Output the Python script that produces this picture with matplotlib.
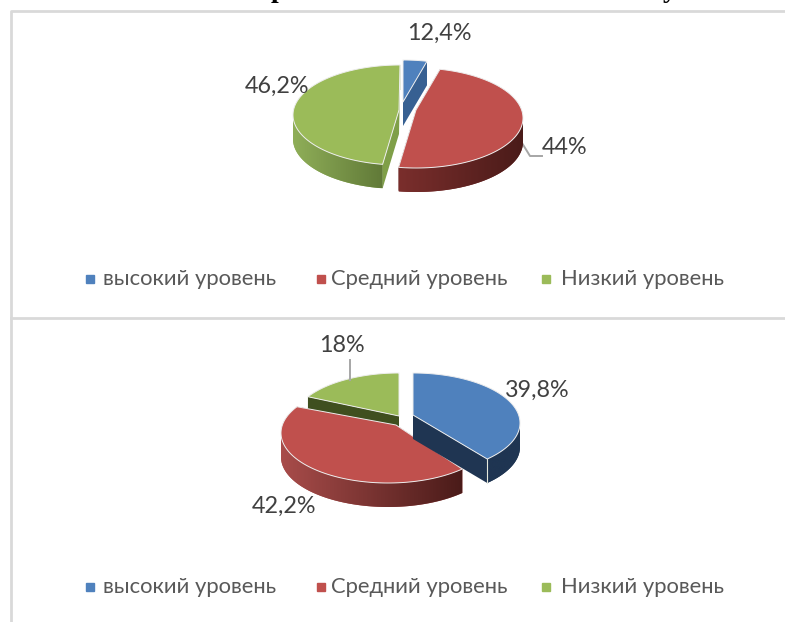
import numpy as np
import matplotlib
matplotlib.use("Agg")
import matplotlib.pyplot as plt
from matplotlib.colors import to_rgb, LinearSegmentedColormap

plt.rcParams['font.family'] = ['Lato', 'Roboto', 'DejaVu Sans']

levels = ["высокий уровень", "Средний уровень", "Низкий уровень"]
level_colors = ["#4F81BD", "#C0504D", "#9BBB59"]

# labels as printed, shares as drawn (they do not agree in the source picture)
top_labels = ["12,4%", "44%", "46,2%"]
top_shares = [3.6, 49.0, 47.4]
bottom_labels = ["39,8%", "42,2%", "18%"]
bottom_shares = [37.8, 46.0, 16.2]

W, H = 785, 622
RX, RY, DEPTH = 107, 50, 24


def draw_slice(ax, z, center, apex, t0, t1, color, cut_color, side, seam):
    t = np.radians(np.linspace(t0, t1, 240))
    xs = center[0] + RX * np.cos(t)
    ys = center[1] - RY * np.sin(t)

    # cut faces between the rim and the apex
    for x, y in [(xs[0], ys[0]), (xs[-1], ys[-1])]:
        ax.fill([x, apex[0], apex[0], x], [y, apex[1], apex[1] + DEPTH, y + DEPTH],
                color=cut_color, lw=0, zorder=z)

    # outer wall, front half only, gradient image clipped to the wall shape
    front = np.sin(t) < 0
    if front.sum() > 1:
        fx, fy = xs[front], ys[front]
        wall = ax.fill(np.r_[fx, fx[::-1]], np.r_[fy, fy[::-1] + DEPTH], color=side[0], lw=0, zorder=z)[0]
        cmap = LinearSegmentedColormap.from_list("wall", [to_rgb(side[0]), to_rgb(side[1])])
        im = ax.imshow(np.linspace(0, 1, 128).reshape(1, -1), cmap=cmap, aspect="auto", zorder=z,
                       extent=(fx.min(), fx.max(), fy.max() + DEPTH, fy.min()), interpolation="bilinear")
        im.set_clip_path(wall)
        if seam:
            ax.plot([xs[-1], xs[-1]], [ys[-1], ys[-1] + DEPTH], color="#E4E8DC", lw=0.8, zorder=z)

    ax.fill(np.r_[apex[0], xs], np.r_[apex[1], ys], facecolor=color,
            edgecolor="#EDEDED", lw=0.7, joinstyle="round", zorder=z)


def draw_pie(ax, shares, centers, apexes, order, cuts, sides, seams):
    ends = 90 - np.cumsum(shares) * 3.6
    starts = np.r_[90, ends[:-1]]
    for z, i in enumerate(order):
        draw_slice(ax, 2 + z, centers[i], apexes[i], starts[i], ends[i],
                   level_colors[i], cuts[i], sides[i], i in seams)


def draw_legend(ax, y):
    for name, color, mx, tx in zip(levels, level_colors, [90, 321, 546], [103, 331, 561]):
        ax.plot([mx], [y], marker="s", ms=5.6, color=color, ls="none")
        ax.text(tx, y, name, fontsize=15.8, color="#595959", va="center", ha="left")


fig = plt.figure(figsize=(W / 100, H / 100), dpi=100)
ax = fig.add_axes([0, 0, 1, 1])
ax.axis("off")

# frames of the two pasted charts
ax.plot([11, 11, W], [H, 11, 11], color="#D9D9D9", lw=2)
ax.plot([11, W], [318, 318], color="#D9D9D9", lw=2)

# bottom of the cut-off heading line
ax.text(278, -3, "р", family="Liberation Serif", weight="bold", fontsize=20, color="black", ha="center", va="baseline", clip_on=False)
ax.text(670, -3, "у", family="Liberation Serif", weight="bold", fontsize=20, color="black", ha="center", va="baseline", clip_on=False)

draw_pie(ax, top_shares,
         centers=[(403, 110), (416, 118), (400, 115)],
         apexes=[(403, 102), (416, 110), (399, 110)],
         order=[0, 2, 1],
         cuts=["#376092", "#632523", "#7F9F48"],
         sides=[("#376092", "#376092"), ("#7A2E2C", "#4A1B19"), ("#8FAE58", "#617A38")],
         seams=[2])

draw_pie(ax, bottom_shares,
         centers=[(413, 423), (388, 433), (399, 423)],
         apexes=[(413, 415), (396, 425), (399, 416)],
         order=[2, 1, 0],
         cuts=["#1F3552", "#632523", "#3F4F1F"],
         sides=[("#1F3552", "#1F3552"), ("#A84C4A", "#4A1B19"), ("#3F4F1F", "#3F4F1F")],
         seams=[0])

# leader lines
ax.plot([522, 530, 542], [143, 156, 156], color="#A6A6A6", lw=1.4)
ax.plot([350, 350], [360, 380], color="#A6A6A6", lw=1.4)

for label, pos in zip(top_labels, [(439, 33), (565, 148), (277, 86)]):
    ax.text(pos[0], pos[1], label, fontsize=16.8, color="#404040", ha="center", va="center", zorder=9)
for label, pos in zip(bottom_labels, [(537, 390), (284, 506), (342, 345)]):
    ax.text(pos[0], pos[1], label, fontsize=16.8, color="#404040", ha="center", va="center", zorder=9)

draw_legend(ax, 279)
draw_legend(ax, 587)

ax.set_xlim(0, W)
ax.set_ylim(H, 0)

fig.savefig("out.png", dpi=100)
